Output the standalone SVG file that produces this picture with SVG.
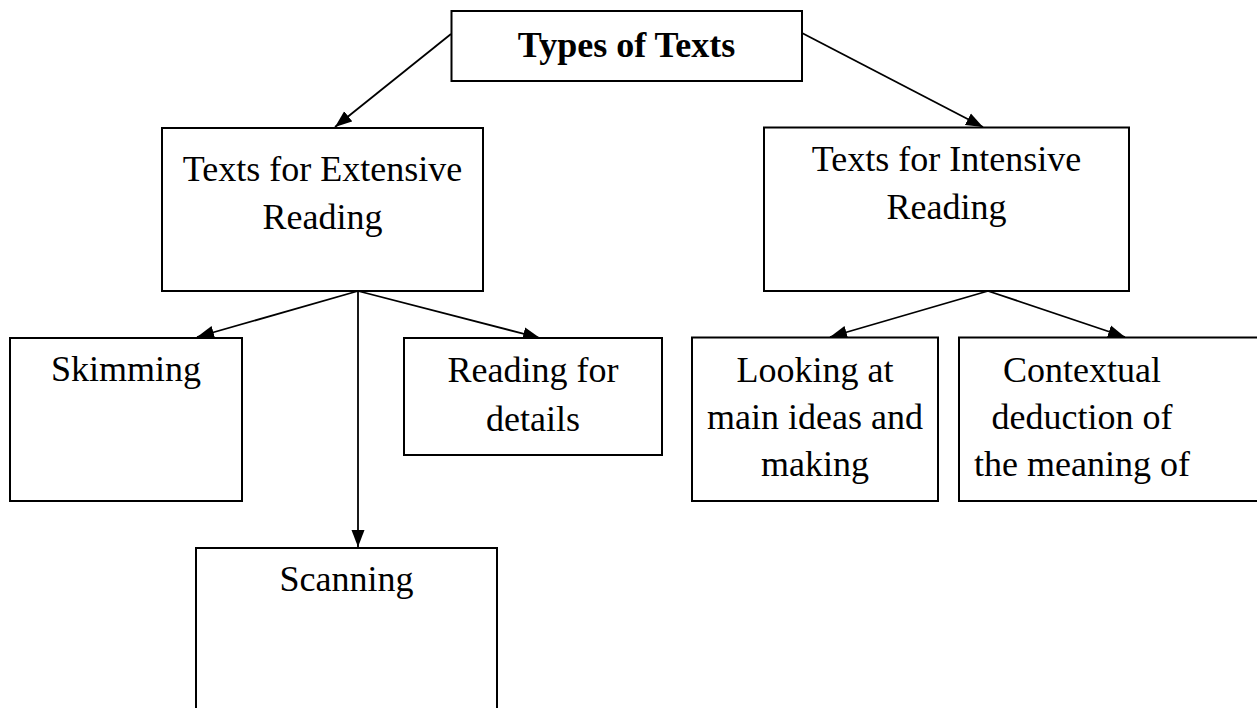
<svg xmlns="http://www.w3.org/2000/svg" width="1257" height="708" viewBox="0 0 1257 708">
<style>
.box{fill:#fff;stroke:#000;stroke-width:2}
.t{font-family:"Liberation Serif","Times New Roman",serif;font-size:36px;fill:#000;text-anchor:middle}
.b{font-weight:bold}
.c{stroke:#000;stroke-width:1.8;fill:none;marker-end:url(#ah)}
</style>
<defs>
<marker id="ah" markerUnits="userSpaceOnUse" markerWidth="18" markerHeight="14" refX="17" refY="7" orient="auto">
<path d="M0,0.5 L17,7 L0,13.5 z" fill="#000"/>
</marker>
</defs>
<rect width="1257" height="708" fill="#fff"/>
<g id="connectors">
<line class="c" x1="451" y1="34" x2="335" y2="127"/>
<line class="c" x1="802" y1="33" x2="983" y2="127"/>
<line class="c" x1="358" y1="291" x2="197" y2="337"/>
<line class="c" x1="358" y1="291" x2="358" y2="547"/>
<line class="c" x1="358" y1="291" x2="540" y2="338"/>
<line class="c" x1="988" y1="291" x2="830" y2="337"/>
<line class="c" x1="988" y1="291" x2="1125" y2="337"/>
</g>
<g id="types">
<rect class="box" x="451.5" y="11" width="350.5" height="70"/>
<text class="t b" x="626.5" y="57">Types of Texts</text>
</g>
<g id="extensive">
<rect class="box" x="162" y="128" width="321" height="163"/>
<text class="t" x="322.5" y="181">Texts for Extensive</text>
<text class="t" x="322.5" y="229">Reading</text>
</g>
<g id="intensive">
<rect class="box" x="764" y="127.5" width="365" height="163.5"/>
<text class="t" x="946.5" y="171">Texts for Intensive</text>
<text class="t" x="946.5" y="219">Reading</text>
</g>
<g id="skimming">
<rect class="box" x="10" y="338" width="232" height="163"/>
<text class="t" x="126" y="381">Skimming</text>
</g>
<g id="details">
<rect class="box" x="404" y="338" width="258" height="117"/>
<text class="t" x="533" y="382">Reading for</text>
<text class="t" x="533" y="431">details</text>
</g>
<g id="scanning">
<rect class="box" x="196" y="548" width="301" height="200"/>
<text class="t" x="346.5" y="591">Scanning</text>
</g>
<g id="looking">
<rect class="box" x="692" y="337.5" width="246" height="163.5"/>
<text class="t" x="815" y="382">Looking at</text>
<text class="t" x="815" y="429">main ideas and</text>
<text class="t" x="815" y="476">making</text>
</g>
<g id="contextual">
<rect class="box" x="959" y="337.5" width="310" height="163.5"/>
<text class="t" x="1082" y="382">Contextual</text>
<text class="t" x="1082" y="429">deduction of</text>
<text class="t" x="1082" y="476">the meaning of</text>
</g>
</svg>
